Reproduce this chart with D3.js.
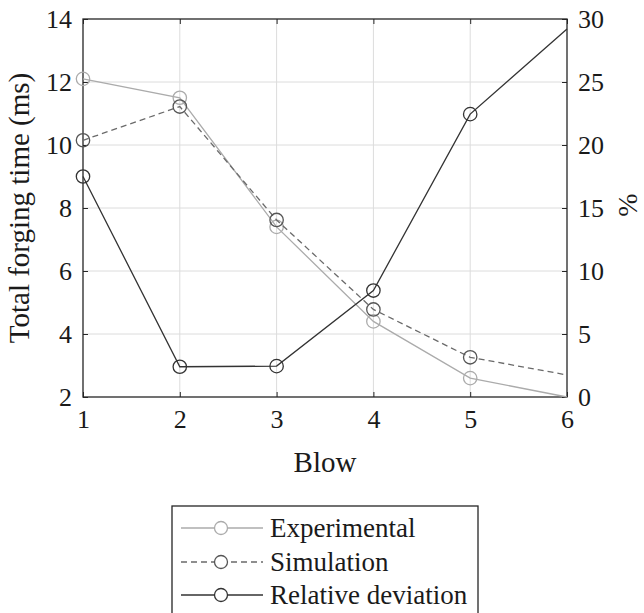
<!DOCTYPE html>
<html>
<head>
<meta charset="utf-8">
<script src="https://cdn.jsdelivr.net/npm/d3@7"></script>
<style>
  body { margin: 0; background: #fff; }
</style>
</head>
<body>
<div id="chart"></div>
<script>
// blows on the x axis
var blows = [1, 2, 3, 4, 5, 6];
// total forging time (ms), left axis
var experimental = [12.1, 11.5, 7.4, 4.4, 2.6, 2.0];
var simulation = [10.15, 11.22, 7.62, 4.78, 3.26, 2.7];
// relative deviation (%), right axis
var deviation = [17.5, 2.4, 2.45, 8.45, 22.45, 29.2];
// markers only drawn on the first five blows
var markerBlows = [1, 2, 3, 4, 5];

var xTicks = [1, 2, 3, 4, 5, 6];
var yLeftTicks = [2, 4, 6, 8, 10, 12, 14];
var yRightTicks = [0, 5, 10, 15, 20, 25, 30];

var FONT = "Liberation Serif";

function drawChart() {
  var width = 644, height = 613;
  var pLeft = 83, pRight = 567, pTop = 19, pBottom = 397;

  var svg = d3.select("#chart").append("svg")
    .attr("width", width)
    .attr("height", height)
    .attr("font-family", FONT);

  var x = d3.scaleLinear().domain([1, 6]).range([pLeft, pRight]);
  var yL = d3.scaleLinear().domain([2, 14]).range([pBottom, pTop]);
  var yR = d3.scaleLinear().domain([0, 30]).range([pBottom, pTop]);

  // grid
  var grid = svg.append("g");
  grid.selectAll(".gx").data(xTicks.slice(1, -1)).enter().append("line")
    .attr("x1", function (d) { return x(d); })
    .attr("x2", function (d) { return x(d); })
    .attr("y1", pTop).attr("y2", pBottom)
    .style("stroke", "#dcdcdc").style("stroke-width", 1);
  grid.selectAll(".gy").data(yLeftTicks.slice(1, -1)).enter().append("line")
    .attr("x1", pLeft).attr("x2", pRight)
    .attr("y1", function (d) { return yL(d); })
    .attr("y2", function (d) { return yL(d); })
    .style("stroke", "#dcdcdc").style("stroke-width", 1);

  // axes (ticks inward)
  var axisStyle = function (g) {
    g.attr("font-family", FONT).attr("font-size", 26);
    g.select(".domain").remove();
    g.selectAll(".tick line").style("stroke", "#262626");
    g.selectAll(".tick text").attr("fill", "#1a1a1a").attr("font-family", FONT);
  };
  svg.append("g").attr("transform", "translate(0," + pBottom + ")")
    .call(d3.axisBottom(x).tickValues(xTicks).tickSize(-5).tickPadding(13).tickFormat(d3.format("d")))
    .call(axisStyle);
  svg.append("g").attr("transform", "translate(0," + pTop + ")")
    .call(d3.axisTop(x).tickValues(xTicks).tickSize(-5).tickFormat(""))
    .call(axisStyle);
  svg.append("g").attr("transform", "translate(" + pLeft + ",0)")
    .call(d3.axisLeft(yL).tickValues(yLeftTicks).tickSize(-5).tickPadding(11).tickFormat(d3.format("d")))
    .call(axisStyle);
  svg.append("g").attr("transform", "translate(" + pRight + ",0)")
    .call(d3.axisRight(yR).tickValues(yRightTicks).tickSize(-5).tickPadding(11).tickFormat(d3.format("d")))
    .call(axisStyle);

  // box
  svg.append("rect")
    .attr("x", pLeft).attr("y", pTop)
    .attr("width", pRight - pLeft).attr("height", pBottom - pTop)
    .style("fill", "none").style("stroke", "#262626").style("stroke-width", 1.3);

  // series
  var series = [
    { name: "Experimental", values: experimental, y: yL, color: "#ababab", marker: "#ababab", dash: null },
    { name: "Simulation", values: simulation, y: yL, color: "#6a6a6a", marker: "#555", dash: "6,4" },
    { name: "Relative deviation", values: deviation, y: yR, color: "#333", marker: "#333", dash: null }
  ];

  series.forEach(function (s) {
    var line = d3.line()
      .x(function (d, i) { return x(blows[i]); })
      .y(function (d) { return s.y(d); });
    svg.append("path")
      .datum(s.values)
      .attr("d", line)
      .style("fill", "none")
      .style("stroke", s.color)
      .style("stroke-width", 1.3)
      .style("stroke-dasharray", s.dash);
    svg.selectAll(null)
      .data(markerBlows)
      .enter()
      .append("circle")
      .attr("cx", function (d) { return x(d); })
      .attr("cy", function (d) { return s.y(s.values[d - 1]); })
      .attr("r", 6.7)
      .style("fill", "none")
      .style("stroke", s.marker)
      .style("stroke-width", 1.3);
  });

  // axis labels
  svg.append("text")
    .attr("x", (pLeft + pRight) / 2).attr("y", 472)
    .attr("text-anchor", "middle")
    .attr("font-size", 29)
    .attr("fill", "#1a1a1a")
    .text("Blow");
  svg.append("text")
    .attr("transform", "translate(29," + (pTop + pBottom) / 2 + ") rotate(-90)")
    .attr("text-anchor", "middle")
    .attr("font-size", 29)
    .attr("fill", "#1a1a1a")
    .text("Total forging time (ms)");
  svg.append("text")
    .attr("transform", "translate(637,205) rotate(-90)")
    .attr("text-anchor", "middle")
    .attr("font-size", 28)
    .attr("fill", "#1a1a1a")
    .text("%");

  // legend
  var lg = svg.append("g");
  lg.append("rect")
    .attr("x", 172).attr("y", 506)
    .attr("width", 306).attr("height", 120)
    .style("fill", "#fff").style("stroke", "#262626").style("stroke-width", 1.3);
  var rowY = [528, 562, 595];
  series.forEach(function (s, i) {
    lg.append("line")
      .attr("x1", 181).attr("x2", 263)
      .attr("y1", rowY[i]).attr("y2", rowY[i])
      .style("stroke", s.color).style("stroke-width", 1.3)
      .style("stroke-dasharray", s.dash);
    lg.append("circle")
      .attr("cx", 221).attr("cy", rowY[i]).attr("r", 6.5)
      .style("fill", "#fff").style("stroke", s.marker).style("stroke-width", 1.3);
    lg.append("text")
      .attr("x", 270).attr("y", rowY[i]).attr("dy", "0.35em")
      .attr("font-size", 27)
      .attr("fill", "#1a1a1a")
      .text(s.name);
  });
}

drawChart();
</script>
</body>
</html>
